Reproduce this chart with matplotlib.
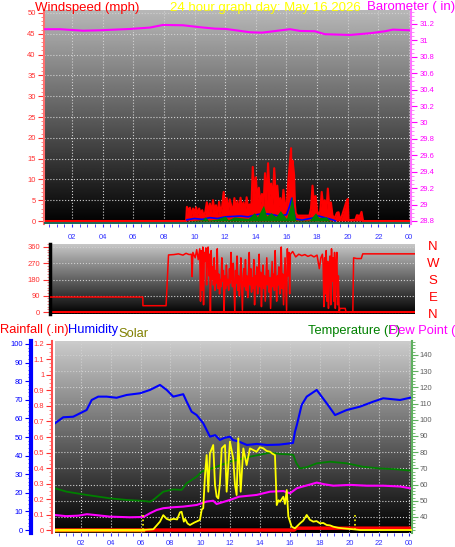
import numpy as np
import matplotlib.pyplot as plt
from matplotlib.ticker import MultipleLocator

plt.rcParams['font.family'] = ['Liberation Sans', 'DejaVu Sans']

# ---- data (hours of day -> value) ----
hour_ticks = list(range(2, 25, 2))
hour_labels = ['02', '04', '06', '08', '10', '12', '14', '16', '18', '20', '22', '00']

baro_h = [0.17, 1.22, 2.72, 3.83, 5.79, 7.09, 7.94, 9.25, 10.36, 11.33, 12.05, 13.62,
          14.40, 16.23, 16.88, 17.86, 18.51, 20.15, 21.45, 22.43, 22.95, 24.06]
baro_v = [31.136, 31.136, 31.118, 31.123, 31.139, 31.156, 31.188, 31.184, 31.160, 31.143,
          31.139, 31.099, 31.094, 31.136, 31.115, 31.111, 31.075, 31.066, 31.087, 31.111,
          31.131, 31.123]

gust_h = [0.17, 9.45, 9.5, 9.6, 9.7, 9.8, 9.9, 10.0, 10.1, 10.2, 10.3, 10.4, 10.5, 10.6,
          10.7, 10.8, 10.9, 11.0, 11.1, 11.2, 11.3, 11.4, 11.5, 11.6, 11.7, 11.8, 11.9,
          12.0, 12.1, 12.2, 12.3, 12.4, 12.5, 12.6, 12.7, 12.8, 12.9, 13.0, 13.1, 13.2,
          13.3, 13.4, 13.5, 13.6, 13.7, 13.8, 13.9, 14.0, 14.1, 14.2, 14.3, 14.4, 14.5,
          14.6, 14.7, 14.8, 14.9, 15.0, 15.1, 15.2, 15.3, 15.4, 15.5, 15.6, 15.7, 15.8,
          15.9, 16.0, 16.1, 16.2, 16.3, 16.35, 16.4, 16.5, 16.55, 16.6, 16.7, 17.5, 17.6,
          17.7, 17.8, 17.9, 18.0, 18.1, 18.2, 18.3, 18.4, 18.5, 18.6, 18.7, 18.8, 18.9,
          19.0, 19.1, 19.2, 19.3, 19.4, 19.5, 19.6, 19.9, 20.0, 20.05, 20.5, 20.6, 20.8,
          20.9, 21.0, 24.13]
gust_v = [0, 0, 3.4, 2.5, 3.2, 1.2, 3.0, 2.0, 3.3, 1.5, 3.0, 1.8, 2.6, 1.0,
          2.2, 4.5, 2.0, 4.2, 1.8, 5.0, 2.5, 3.8, 1.5, 4.6, 2.0, 3.5, 7.0,
          3.0, 5.5, 2.0, 5.2, 3.5, 2.2, 5.5, 2.5, 4.8, 1.8, 5.6, 2.5, 4.5,
          2.0, 5.7, 3.0, 4.0, 2.5, 13.0, 6.0, 10.5, 5.0, 8.0, 4.0, 6.5, 3.5,
          11.5, 5.0, 13.9, 6.0, 9.0, 4.0, 12.7, 6.0, 8.5, 3.5, 5.5, 2.5, 7.5,
          4.0, 3.0, 8.7, 13.0, 17.5, 6.0, 14.5, 11.0, 4.0, 2.0, 1.3, 1.3, 3.0,
          8.5, 4.0, 6.0, 2.5, 1.5, 2.2, 7.0, 3.5, 5.0, 2.0, 7.8, 3.0, 4.5,
          1.5, 0.5, 1.2, 2.0, 2.1, 0.3, 1.0, 4.5, 5.3, 0.2, 0.3, 1.4, 1.2,
          2.2, 0, 0]

avg_h = [9.5, 10.0, 10.5, 11.0, 11.5, 12.0, 12.5, 13.0, 13.5, 14.0, 14.5, 15.0, 15.5,
         16.0, 16.2, 16.35, 16.5, 16.6, 17.0, 17.8, 18.0, 18.5, 19.0, 19.2]
avg_v = [0.3, 0.6, 0.4, 0.8, 0.6, 1.0, 1.1, 1.2, 1.0, 1.5, 1.8, 1.6, 1.2,
         1.5, 3.5, 5.5, 2.0, 0.5, 0.2, 0.8, 1.3, 0.8, 0.3, 0.0]

grn_h = [9.5, 10.5, 10.7, 10.9, 11.5, 12.0, 12.2, 12.6, 13.0, 13.5, 13.9, 14.1, 14.5,
         14.7, 15.0, 15.3, 15.6, 15.8, 16.0, 16.2, 16.35, 16.5, 16.6, 17.5, 17.9, 18.1,
         18.6, 18.8, 19.0]
grn_v = [0, 0.3, 1.0, 0.2, 0.5, 1.2, 0.3, 1.0, 0.8, 0.6, 2.0, 1.0, 3.8,
         1.2, 2.0, 1.0, 2.5, 1.5, 0.6, 3.0, 6.0, 2.5, 0.2, 0.2, 2.0, 0.8,
         1.0, 0.2, 0]

dir_h = [0.17, 6.26, 6.27, 7.79, 7.95, 8.3, 8.6, 8.9, 9.1, 9.3, 9.45, 9.5, 9.55, 9.7,
         9.8, 9.9, 10.0, 10.05, 10.1, 10.15, 10.2, 10.25, 10.3, 10.35, 10.4, 10.45,
         10.5, 10.55, 10.6, 10.65, 10.7, 10.75, 10.8, 10.85, 10.9, 10.95, 11.0, 11.05,
         11.1, 11.15, 11.2, 11.25, 11.3, 11.35, 11.4, 11.45, 11.5, 11.55, 11.6, 11.65,
         11.7, 11.75, 11.8, 11.85, 11.9, 11.95, 12.0, 12.05, 12.1, 12.15, 12.2, 12.25,
         12.3, 12.35, 12.4, 12.45, 12.5, 12.55, 12.6, 12.65, 12.7, 12.75, 12.8, 12.85,
         12.9, 12.95, 13.0, 13.05, 13.1, 13.15, 13.2, 13.25, 13.3, 13.35, 13.4, 13.45,
         13.5, 13.55, 13.6, 13.65, 13.7, 13.75, 13.8, 13.85, 13.9, 13.95, 14.0, 14.05,
         14.1, 14.15, 14.2, 14.25, 14.3, 14.35, 14.4, 14.45, 14.5, 14.55, 14.6, 14.65,
         14.7, 14.75, 14.8, 14.85, 14.9, 14.95, 15.0, 15.05, 15.1, 15.15, 15.2, 15.25,
         15.3, 15.35, 15.4, 15.45, 15.5, 15.55, 15.6, 15.65, 15.7, 15.75, 15.8, 15.85,
         15.9, 15.95, 16.1, 16.3, 16.5, 16.7, 16.9, 17.1, 17.3, 17.5, 17.7, 17.85,
         17.95, 18.05, 18.1, 18.15, 18.2, 18.25, 18.3, 18.35, 18.4, 18.45, 18.5, 18.55,
         18.6, 18.65, 18.7, 18.75, 18.8, 18.85, 18.9, 18.95, 19.0, 19.05, 19.1, 19.15,
         19.2, 19.55, 19.6, 20.05, 20.1, 20.3, 20.6, 20.7, 24.13]
dir_v = [83, 83, 35, 35, 316, 318, 322, 315, 325, 318, 320, 196, 330, 300,
         345, 290, 350, 60, 340, 120, 360, 40, 330, 280, 355, 150,
         300, 360, 200, 320, 0, 340, 180, 250, 150, 300, 120, 230,
         160, 350, 130, 210, 100, 180, 140, 300, 170, 230, 0, 200,
         130, 260, 150, 180, 120, 240, 160, 330, 190, 140, 270, 130,
         0, 230, 160, 310, 120, 200, 90, 170, 300, 150, 10, 190,
         240, 140, 290, 120, 200, 80, 180, 330, 150, 240, 110, 190,
         130, 290, 40, 200, 150, 250, 100, 180, 320, 140, 220, 30,
         170, 260, 130, 200, 60, 180, 300, 150, 230, 110, 190, 20,
         160, 280, 140, 210, 120, 340, 170, 60, 200, 150, 250, 100,
         190, 360, 130, 210, 40, 170, 300, 150, 10, 350, 200, 330,
         100, 320, 335, 305, 320, 312, 318, 308, 315, 305, 315, 240,
         300, 320, 260, 30, 300, 100, 340, 60, 280, 20, 250, 310,
         40, 350, 170, 300, 60, 330, 20, 260, 330, 40, 200, 0,
         20, 20, 0, 0, 300, 296, 296, 322, 322]

hum_h = [0.26, 0.81, 1.48, 2.15, 2.38, 2.72, 3.16, 3.72, 4.39, 5.07, 5.96, 6.63, 7.30,
         7.75, 8.19, 8.86, 9.09, 9.42, 9.76, 10.20, 10.65, 11.0, 11.32, 11.6, 11.99,
         12.19, 12.6, 13.13, 13.8, 14.47, 15.3, 16.22, 16.35, 16.48, 16.80, 17.14, 17.81,
         18.48, 19.04, 19.82, 20.71, 21.60, 22.27, 23.40, 24.07]
hum_v = [57.4, 60.6, 60.9, 63.6, 64.5, 69.9, 71.7, 71.7, 71.1, 72.6, 73.5, 75.3, 78.0,
         75.3, 71.7, 73.0, 69.0, 63.6, 61.8, 57.4, 50.2, 51.0, 48.4, 49.5, 50.2,
         48.4, 47.5, 45.7, 46.3, 45.7, 45.9, 46.8, 52.7, 56.5, 67.2, 71.7, 75.3,
         68.1, 61.8, 64.5, 66.3, 69.0, 70.8, 69.9, 71.1]

temp_h = [0.26, 1.04, 2.38, 3.95, 5.07, 6.18, 6.63, 6.85, 7.52, 8.19, 8.75, 9.09, 9.76,
          10.10, 11.10, 11.99, 13.33, 14.68, 15.35, 16.02, 16.24, 16.45, 16.69, 17.14,
          17.81, 18.70, 19.82, 20.90, 22.0, 23.18, 24.07]
temp_v = [57.7, 55.6, 53.6, 51.5, 50.5, 49.9, 49.4, 50.5, 55.6, 57.0, 56.7, 60.8, 64.9,
          68.0, 71.0, 74.1, 77.2, 79.7, 78.9, 78.6, 78.3, 73.1, 70.0, 70.7,
          73.1, 74.1, 73.1, 71.0, 70.0, 69.4, 68.6]

dew_h = [0.26, 1.0, 1.83, 2.4, 2.95, 3.95, 5.29, 6.2, 6.63, 7.08, 7.52, 8.19, 8.86, 9.76,
         10.43, 10.87, 11.10, 11.99, 12.6, 13.78, 14.68, 15.57, 16.02, 16.47, 16.8, 17.36,
         17.81, 18.3, 18.93, 20.05, 21.17, 22.27, 23.4, 24.07]
dew_v = [41.2, 40.5, 40.8, 41.7, 41.2, 40.2, 39.8, 40.0, 42.3, 44.3, 45.4, 46.0, 46.4, 47.4,
         49.5, 50.0, 48.0, 50.5, 52.5, 53.6, 55.6, 56.0, 54.6, 57.7, 58.6, 60.0,
         61.2, 60.2, 59.3, 59.8, 59.3, 59.3, 58.8, 57.7]

solar_h = [0.26, 6.16, 6.85, 7.30, 7.52, 7.75, 7.95, 8.19, 8.45, 8.64, 8.75, 8.9, 8.98,
           9.15, 9.31, 9.6, 9.98, 10.10, 10.20, 10.32, 10.43, 10.54, 10.65, 10.87, 10.99,
           11.10, 11.21, 11.32, 11.44, 11.66, 11.77, 11.99, 12.21, 12.33, 12.44, 12.55,
           12.71, 12.89, 13.11, 13.33, 13.55, 13.78, 14.0, 14.23, 14.45, 14.68, 14.85,
           15.01, 15.13, 15.25, 15.35, 15.57, 15.68, 15.80, 15.91, 16.02, 16.13, 16.35,
           16.69, 16.9, 17.14, 17.35, 17.58, 17.8, 18.03, 18.25, 18.48, 18.7, 18.92,
           19.25, 19.59, 20.26, 20.71, 24.2]
solar_v = [0, 0, 4, 45, 80, 60, 54, 60, 57, 95, 98, 45, 60,
           35, 27, 40, 54, 110, 117, 296, 403, 206, 412, 457, 242,
           180, 170, 251, 439, 457, 206, 475, 385, 242, 188, 493,
           206, 439, 349, 439, 430, 421, 445, 439, 425, 421, 410,
           403, 134, 160, 152, 179, 140, 215, 72, 45, 18, 9,
           36, 50, 81, 55, 45, 48, 36, 38, 27, 25, 18,
           12, 9, 4, 0, 0]

rain_h = [0.26, 16.3, 16.45, 24.2]
rain_v = [0, 0, 0.012, 0.012]
sun_h = [6.16, 20.38]   # sunrise / sunset markers

W, H = 456, 547
fig = plt.figure(figsize=(W / 100, H / 100), dpi=100)


def box(l, t, r, b):
    return [l / W, 1 - b / H, (r - l) / W, (b - t) / H]


def shade(ax, top):
    g = np.linspace(top, 0, 256).reshape(-1, 1)
    ax.imshow(g, cmap='gray', vmin=0, vmax=1, aspect='auto', extent=[0, 1, 0, 1],
              transform=ax.transAxes, zorder=0, interpolation='bilinear')


def nolabel_spines(ax):
    for s in ax.spines.values():
        s.set_visible(False)


def fmt(v):
    return '%g' % round(v, 2)


grid_kw = dict(color='#d0d0d0', linestyle=':', linewidth=0.8)

# ---------------- top: wind speed + barometer ----------------
ax1 = fig.add_axes(box(44, 10, 411, 224))
shade(ax1, 0.72)
ax1.fill_between(gust_h, 0, gust_v, color='#ff0000', lw=0, zorder=2)
ax1.plot(gust_h, gust_v, color='#ff0000', lw=1.5, zorder=2)
ax1.plot(avg_h, avg_v, color='#0000ff', lw=1.2, zorder=3)
ax1.fill_between(grn_h, 0, grn_v, color='#008000', lw=0, zorder=4)
ax1.axhline(-0.45, color='#1f6b5a', lw=1.5, zorder=3)
ax1.set_xlim(0.17, 24.13)
ax1.set_ylim(-0.72, 50.72)
nolabel_spines(ax1)
ax1.spines['left'].set_visible(True)
ax1.spines['left'].set_color('#ff7070')
ax1.spines['left'].set_linestyle((0, (1, 1)))
ax1.spines['left'].set_linewidth(1.5)
ax1.set_xticks(hour_ticks)
ax1.set_xticklabels(hour_labels)
ax1.xaxis.set_minor_locator(MultipleLocator(0.5))
ax1.tick_params(axis='x', which='both', colors='#3030ff', labelsize=5.5, length=2, pad=5)
ax1.set_yticks(range(0, 51, 5))
ax1.yaxis.set_minor_locator(MultipleLocator(1))
ax1.tick_params(axis='y', which='major', colors='#ff3030', labelsize=5.5, length=4, pad=2)
ax1.tick_params(axis='y', which='minor', colors='#ff7070', length=2)
ax1.grid(True, **grid_kw)

ax1r = ax1.twinx()
ax1r.plot(baro_h, baro_v, color='#ff00ff', lw=1.5)
ax1r.set_ylim(28.763, 31.37)
nolabel_spines(ax1r)
ax1r.spines['right'].set_visible(True)
ax1r.spines['right'].set_color('#ff70ff')
ax1r.spines['right'].set_linestyle((0, (1, 1)))
ax1r.spines['right'].set_linewidth(1.5)
bticks = np.arange(28.8, 31.21, 0.2)
ax1r.set_yticks(bticks)
ax1r.set_yticklabels([fmt(v) for v in bticks])
ax1r.yaxis.set_minor_locator(MultipleLocator(0.05))
ax1r.tick_params(axis='y', which='major', colors='#ff00ff', labelsize=5.5, length=4, pad=2)
ax1r.tick_params(axis='y', which='minor', colors='#ff70ff', length=2)

fig.text(35 / W, 1 - 11 / H, 'Windspeed (mph)', color='#ff0000', fontsize=9.5, va='baseline')
fig.text(170 / W, 1 - 11 / H, '24 hour graph day: May 16 2026', color='#ffff00', fontsize=9.5,
         va='baseline')
fig.text(367 / W, 1 - 10 / H, 'Barometer ( in)', color='#ff00ff', fontsize=9.5, va='baseline')

# ---------------- middle: wind direction ----------------
ax2 = fig.add_axes(box(50, 244, 415, 314))
shade(ax2, 0.78)
ax2.axhline(0, color='#ff0000', lw=1.5, zorder=2)
ax2.plot(dir_h, dir_v, color='#ff0000', lw=1.1, zorder=3)
ax2.set_xlim(0.17, 24.13)
ax2.set_ylim(-11, 376.6)
nolabel_spines(ax2)
ax2.spines['left'].set_visible(True)
ax2.spines['left'].set_color('black')
ax2.spines['left'].set_linewidth(2.5)
ax2.set_xticks([])
ax2.set_yticks([0, 90, 180, 270, 360])
ax2.yaxis.set_minor_locator(MultipleLocator(15))
ax2.tick_params(axis='y', which='major', colors='#ff3030', labelsize=5.5, length=5, pad=2)
ax2.tick_params(axis='y', which='minor', colors='#ff7070', length=2)
ax2.grid(True, axis='y', **grid_kw)

for lab, yy in zip(['N', 'W', 'S', 'E', 'N'], [247, 264, 281, 298, 315]):
    fig.text(433 / W, 1 - yy / H, lab, color='#ff0000', fontsize=9.5, ha='center', va='center')

# ---------------- bottom: rain / humidity / solar / temperature ----------------
ax3 = fig.add_axes(box(55, 341, 412, 533))
shade(ax3, 0.8)
ax3.plot(rain_h, rain_v, color='#ff0000', lw=2.5, zorder=3)
ax3.plot([rain_h[0], sun_h[0]], [0, 0], color='#ff9000', lw=2.5, zorder=3)
ax3.set_xlim(0.26, 24.2)
ax3.set_ylim(-0.019, 1.219)
nolabel_spines(ax3)
ax3.spines['left'].set_visible(True)
ax3.spines['left'].set_position(('outward', 2.2))
ax3.spines['left'].set_color('#ff5050')
ax3.spines['left'].set_linestyle((0, (1, 1)))
ax3.spines['left'].set_linewidth(1.5)
rticks = np.arange(0, 1.21, 0.1)
ax3.set_yticks(rticks)
ax3.set_yticklabels([fmt(v) for v in rticks])
ax3.yaxis.set_minor_locator(MultipleLocator(0.025))
ax3.tick_params(axis='y', which='major', colors='#ff3030', labelsize=5.5, length=4, pad=1.5)
ax3.tick_params(axis='y', which='minor', colors='#ff7070', length=2)
ax3.set_xticks(hour_ticks)
ax3.set_xticklabels(hour_labels)
ax3.xaxis.set_minor_locator(MultipleLocator(0.5))
ax3.tick_params(axis='x', which='both', colors='#3030ff', labelsize=5.5, length=2, pad=3)
ax3.grid(True, axis='x', **grid_kw)

ax3t = ax3.twinx()
ax3t.plot(temp_h, temp_v, color='#008000', lw=1.3)
ax3t.plot(dew_h, dew_v, color='#ff00ff', lw=1.5)
ax3t.set_ylim(30.1, 148.6)
nolabel_spines(ax3t)
ax3t.spines['right'].set_visible(True)
ax3t.spines['right'].set_color('#60b060')
ax3t.spines['right'].set_linestyle((0, (1, 1)))
ax3t.spines['right'].set_linewidth(1.5)
ax3t.set_yticks(range(40, 141, 10))
ax3t.yaxis.set_minor_locator(MultipleLocator(2))
ax3t.tick_params(axis='y', which='major', colors='#60b060', labelcolor='#606060',
                 labelsize=5.5, length=4, pad=1.5)
ax3t.tick_params(axis='y', which='minor', colors='#60b060', length=2)
ax3t.grid(True, axis='y', **grid_kw)

ax3h = ax3.twinx()
ax3h.plot(hum_h, hum_v, color='#0000ff', lw=1.5)
ax3h.set_ylim(-1.6, 101.6)
nolabel_spines(ax3h)
ax3h.spines['left'].set_visible(True)
ax3h.spines['left'].set_position(('outward', 17.3))
ax3h.spines['left'].set_color('#0000ff')
ax3h.spines['left'].set_linewidth(3)
ax3h.yaxis.set_ticks_position('left')
ax3h.set_yticks(range(0, 101, 10))
ax3h.yaxis.set_minor_locator(MultipleLocator(2))
ax3h.tick_params(axis='y', which='major', colors='#0000ff', labelsize=5.5, length=4, pad=1.5)
ax3h.tick_params(axis='y', which='minor', colors='#3030ff', length=2)

ax3s = ax3.twinx()
ax3s.plot(solar_h, solar_v, color='#ffff00', lw=1.3)
ax3s.vlines(sun_h, 0, 86, colors='#ffff00', linestyles=':', lw=1.2)
ax3s.set_ylim(-16, 1016)
ax3s.axis('off')

fig.text(0 / W, 1 - 333 / H, 'Rainfall (.in)', color='#ff0000', fontsize=9.3, va='baseline')
fig.text(68 / W, 1 - 333 / H, 'Humidity', color='#0000ff', fontsize=9.3, va='baseline')
fig.text(118 / W, 1 - 337 / H, 'Solar', color='#808000', fontsize=9.3, va='baseline')
fig.text(308 / W, 1 - 334 / H, 'Temperature (F)', color='#008000', fontsize=9.3, va='baseline')
fig.text(389 / W, 1 - 334 / H, 'Dew Point (F)', color='#ff00ff', fontsize=9.3, va='baseline')

fig.savefig('out.png', dpi=100, facecolor='white')
